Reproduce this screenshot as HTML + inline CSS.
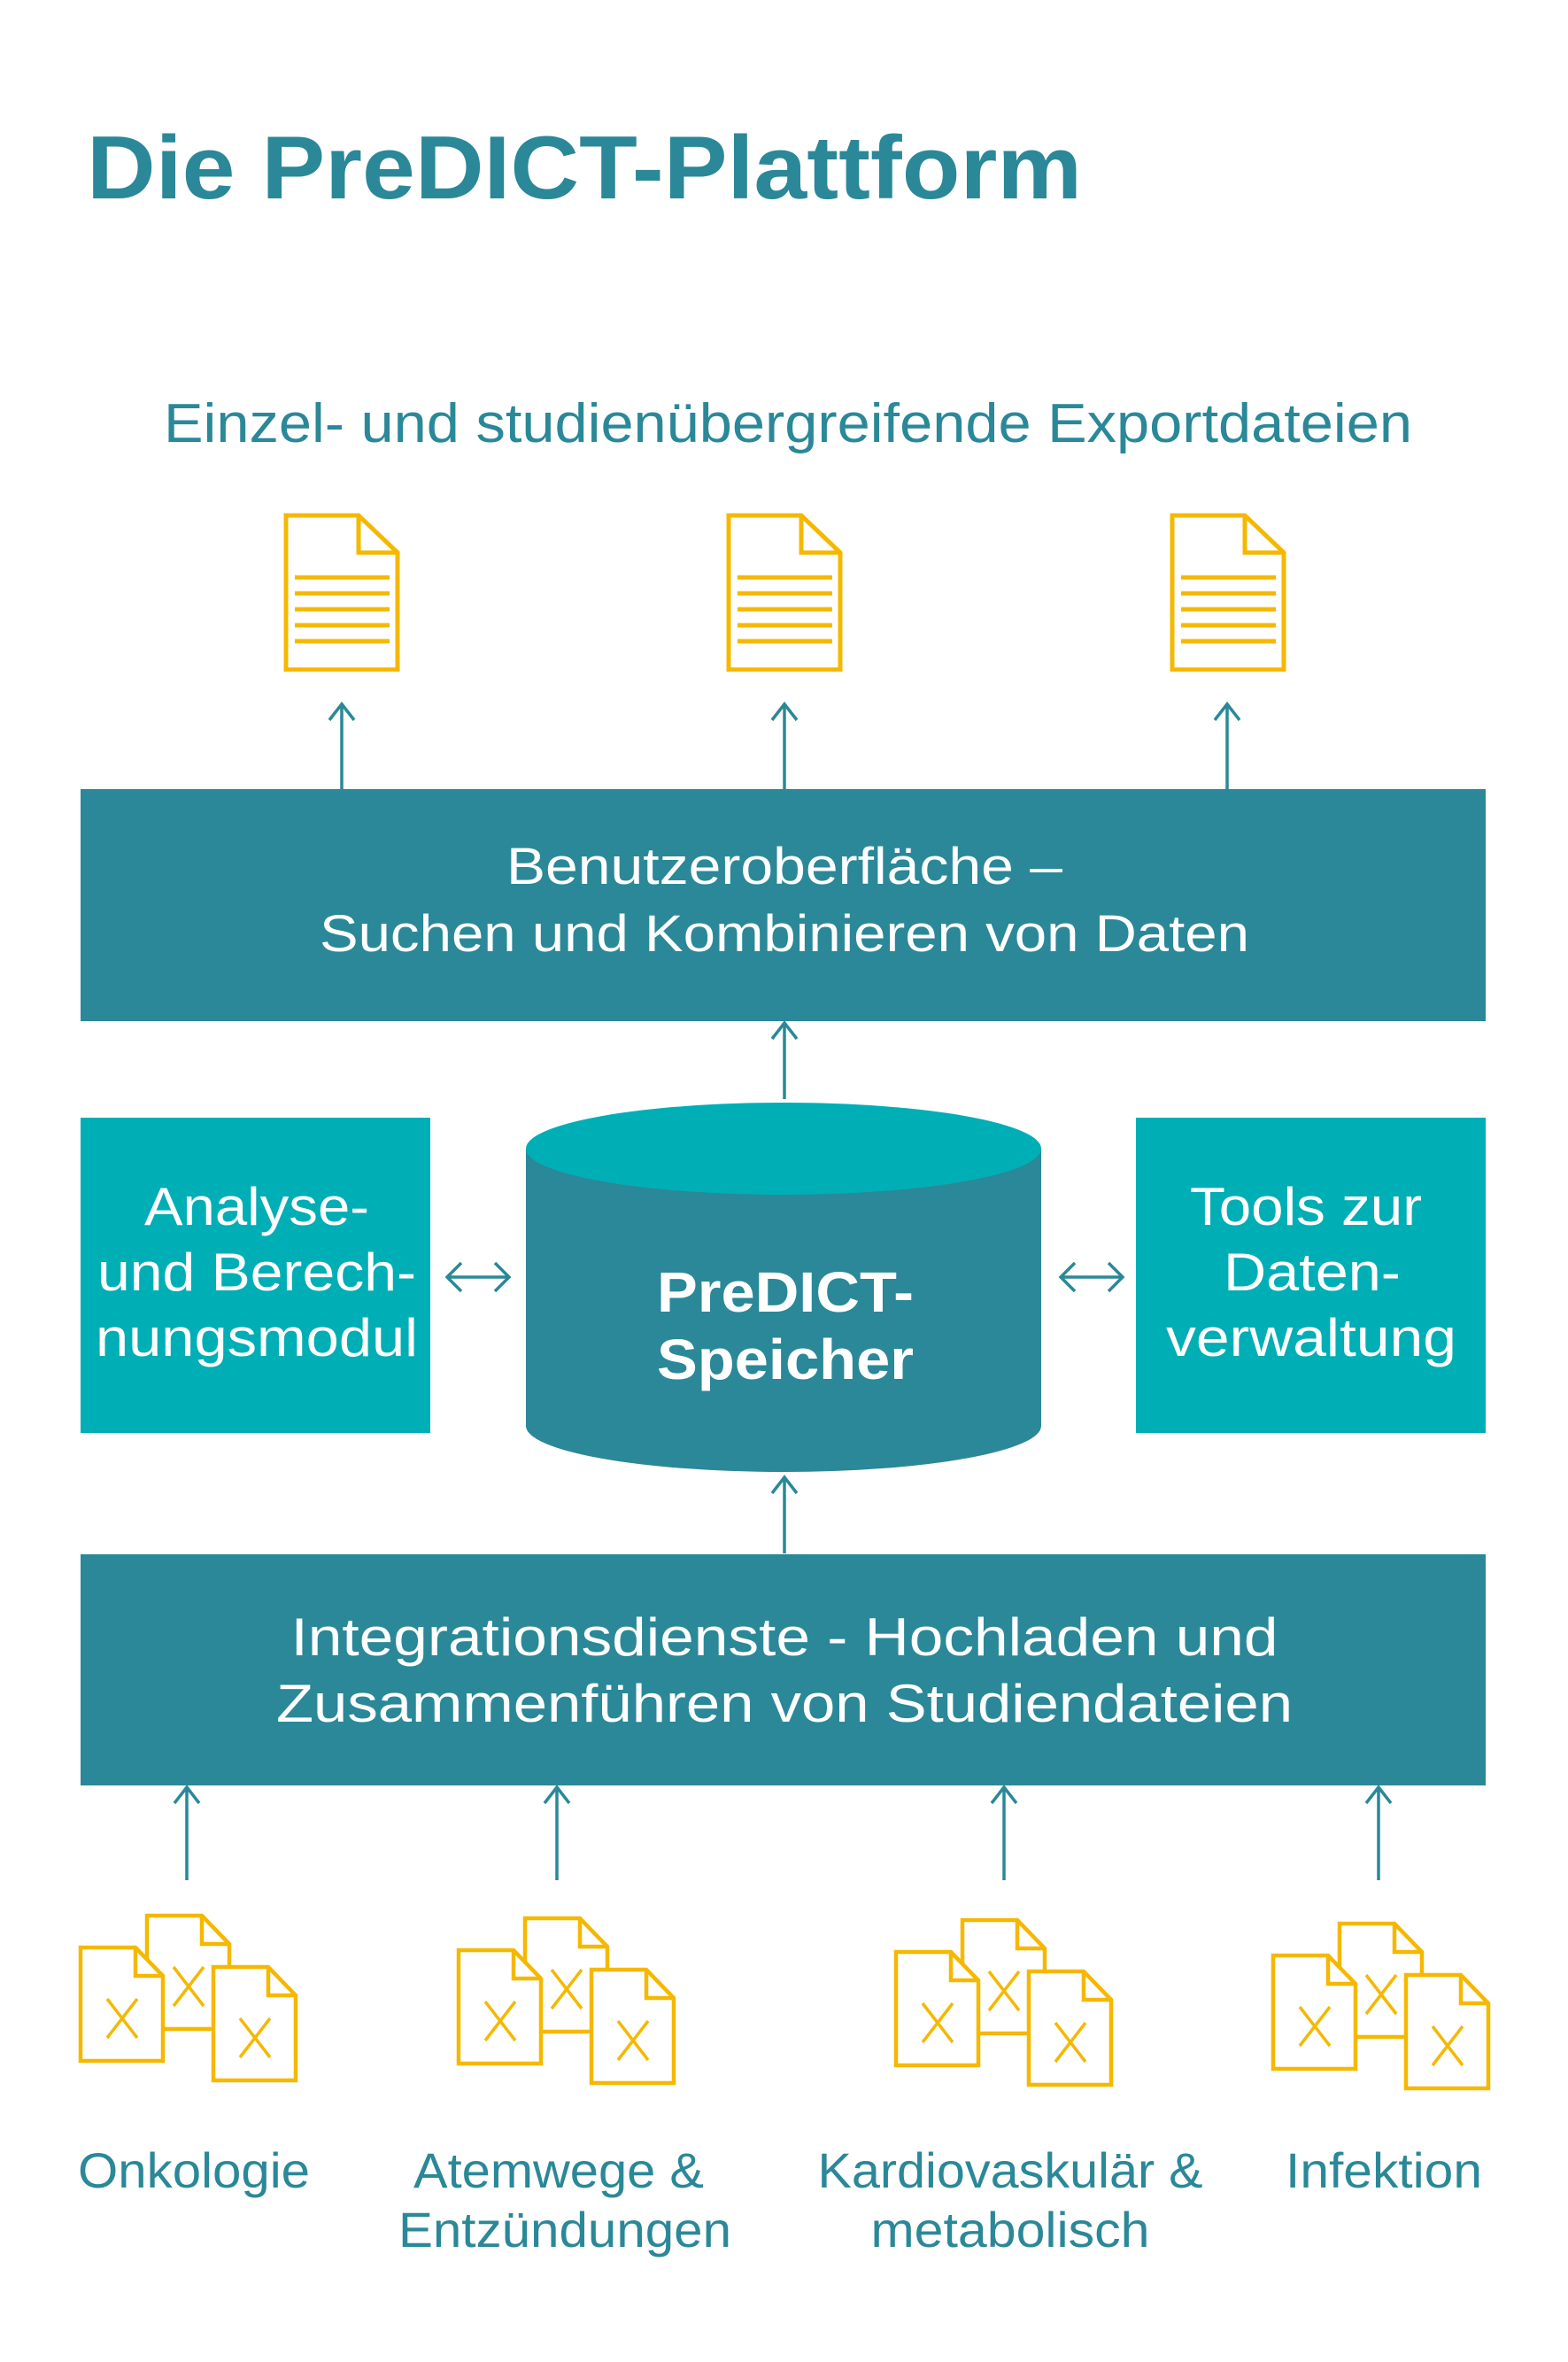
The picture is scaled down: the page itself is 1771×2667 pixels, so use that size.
<!DOCTYPE html>
<html><head><meta charset="utf-8"><style>html,body{margin:0;padding:0;background:#fff}svg{display:block}</style></head><body>
<svg width="1771" height="2667" viewBox="0 0 1771 2667" xmlns="http://www.w3.org/2000/svg" font-family="Liberation Sans, sans-serif">
<defs>
<g id="exp" fill="none" stroke="#f5b800" stroke-width="5">
<path d="M0,0 H82 L126,42 V174 H0 Z" fill="#fff"/>
<path d="M82,0 V42 H126"/>
<path d="M10,70 H117 M10,88 H117 M10,106 H117 M10,124 H117 M10,142 H117"/>
</g>
<g id="xd" stroke="#f5b800" stroke-width="4.5">
<path d="M0,0 H62 L93,32 V128 H0 Z" fill="#fff"/>
<path d="M62,0 V32 H93" fill="none"/>
<path d="M30,58 L64,102 M64,58 L30,102" fill="none" stroke-width="3.5"/>
</g>
<g id="grp">
<use href="#xd" x="75" y="-36"/>
<use href="#xd" x="0" y="0"/>
<use href="#xd" x="150" y="22"/>
</g>
</defs>

<text x="98" y="224" font-size="101" font-weight="bold" fill="#2a8898" textLength="1124" lengthAdjust="spacingAndGlyphs">Die PreDICT-Plattform</text>
<text x="185" y="499" font-size="62" fill="#2a8898" textLength="1410" lengthAdjust="spacingAndGlyphs">Einzel- und studienübergreifende Exportdateien</text>

<use href="#exp" x="323" y="582"/>
<use href="#exp" x="823" y="582"/>
<use href="#exp" x="1324" y="582"/>

<g stroke="#2a8898" stroke-width="3.5" fill="none">
<path d="M386,891 V795 M372,813 L386,795 L400,813"/>
<path d="M886,891 V795 M872,813 L886,795 L900,813"/>
<path d="M1386,891 V795 M1372,813 L1386,795 L1400,813"/>
<path d="M886,1241 V1155 M872,1173 L886,1155 L900,1173"/>
<path d="M886,1754 V1668 M872,1686 L886,1668 L900,1686"/>
<path d="M211,2123 V2018 M197,2036 L211,2018 L225,2036"/>
<path d="M629,2123 V2018 M615,2036 L629,2018 L643,2036"/>
<path d="M1134,2123 V2018 M1120,2036 L1134,2018 L1148,2036"/>
<path d="M1557,2123 V2018 M1543,2036 L1557,2018 L1571,2036"/>
<path d="M505,1442 H575 M521,1426 L505,1442 L521,1458 M559,1426 L575,1442 L559,1458"/>
<path d="M1198,1442 H1268 M1214,1426 L1198,1442 L1214,1458 M1252,1426 L1268,1442 L1252,1458"/>
</g>

<rect x="91" y="891" width="1587" height="262" fill="#2a8898"/>
<text x="886" y="998" font-size="58" fill="#fff" text-anchor="middle" textLength="628" lengthAdjust="spacingAndGlyphs">Benutzeroberfläche –</text>
<text x="886" y="1074" font-size="58" fill="#fff" text-anchor="middle" textLength="1050" lengthAdjust="spacingAndGlyphs">Suchen und Kombinieren von Daten</text>

<rect x="91" y="1262" width="395" height="356" fill="#00aeb5"/>
<rect x="1283" y="1262" width="395" height="356" fill="#00aeb5"/>
<g fill="#fff" font-size="60" text-anchor="middle">
<text x="290" y="1383" textLength="254" lengthAdjust="spacingAndGlyphs">Analyse-</text>
<text x="290" y="1457" textLength="360" lengthAdjust="spacingAndGlyphs">und Berech-</text>
<text x="290" y="1531" textLength="364" lengthAdjust="spacingAndGlyphs">nungsmodul</text>
<text x="1475" y="1383" textLength="262" lengthAdjust="spacingAndGlyphs">Tools zur</text>
<text x="1482" y="1457" textLength="200" lengthAdjust="spacingAndGlyphs">Daten-</text>
<text x="1481" y="1531" textLength="328" lengthAdjust="spacingAndGlyphs">verwaltung</text>
</g>

<path d="M594,1297 V1610 A291,52 0 0 0 1176,1610 V1297 Z" fill="#2a8898"/>
<ellipse cx="885" cy="1297" rx="291" ry="52" fill="#00aeb5"/>
<text x="887" y="1481" font-size="64" font-weight="bold" fill="#fff" text-anchor="middle" textLength="290" lengthAdjust="spacingAndGlyphs">PreDICT-</text>
<text x="887" y="1557" font-size="64" font-weight="bold" fill="#fff" text-anchor="middle" textLength="290" lengthAdjust="spacingAndGlyphs">Speicher</text>

<rect x="91" y="1755" width="1587" height="261" fill="#2a8898"/>
<text x="886" y="1869" font-size="60" fill="#fff" text-anchor="middle" textLength="1115" lengthAdjust="spacingAndGlyphs">Integrationsdienste - Hochladen und</text>
<text x="886" y="1944" font-size="60" fill="#fff" text-anchor="middle" textLength="1148" lengthAdjust="spacingAndGlyphs">Zusammenführen von Studiendateien</text>

<use href="#grp" x="91" y="2199"/>
<use href="#grp" x="518" y="2202"/>
<use href="#grp" x="1012" y="2204"/>
<use href="#grp" x="1438" y="2208"/>

<g fill="#2a8898" font-size="56" text-anchor="middle">
<text x="219" y="2470" textLength="262" lengthAdjust="spacingAndGlyphs">Onkologie</text>
<text x="631" y="2470" textLength="328" lengthAdjust="spacingAndGlyphs">Atemwege &amp;</text>
<text x="638" y="2537" textLength="376" lengthAdjust="spacingAndGlyphs">Entzündungen</text>
<text x="1141" y="2470" textLength="435" lengthAdjust="spacingAndGlyphs">Kardiovaskulär &amp;</text>
<text x="1141" y="2537" textLength="315" lengthAdjust="spacingAndGlyphs">metabolisch</text>
<text x="1563" y="2470" textLength="222" lengthAdjust="spacingAndGlyphs">Infektion</text>
</g>
</svg>
</body></html>
